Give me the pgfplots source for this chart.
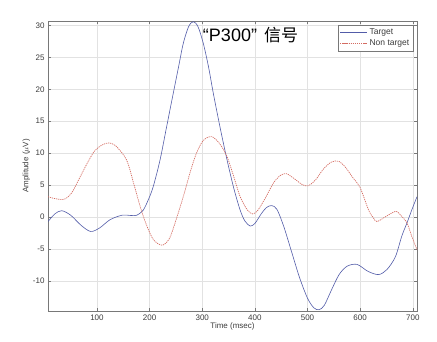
\documentclass[border=0pt]{standalone}
\usepackage{pgfplots}
\pgfplotsset{compat=1.18}
\usepackage{fontspec}
\setmainfont{Liberation Sans}
\newfontfamily\cjk{Noto Sans CJK SC}
\definecolor{tblue}{RGB}{82,92,168}
\definecolor{nred}{RGB}{212,108,98}
\definecolor{gridc}{RGB}{226,226,226}
\definecolor{axc}{RGB}{120,120,120}
\definecolor{txc}{RGB}{60,60,60}
\begin{document}
\begin{tikzpicture}
\path[use as bounding box] (-48pt,-31pt) rectangle (389pt,311pt);
\begin{axis}[
  at={(0,0)}, anchor=south west,
  scale only axis,
  width=369pt, height=290pt,
  xmin=7, xmax=708, ymin=-14.7, ymax=30.7,
  xtick={100,200,...,700},
  ytick={-10,-5,...,30},
  grid=major,
  major grid style={gridc, line width=0.5pt},
  axis line style={axc, line width=0.6pt},
  tick style={axc, line width=0.5pt},
  major tick length=3pt,
  tick align=inside,
  ticklabel style={font=\fontsize{8}{9}\selectfont, text=txc},
  /pgf/number format/assume math mode=true,
  xlabel={Time (msec)},
  ylabel={Amplitude ($\mu$V)},
  label style={font=\fontsize{8}{9}\selectfont, text=txc},
  xlabel style={yshift=4pt},
  ylabel style={yshift=-4pt},
  legend style={at={(0.9892,0.9866)}, anchor=north east, draw=axc, line width=0.5pt,
     font=\fontsize{8.5}{9}\selectfont, inner xsep=1.5pt, inner ysep=1.5pt, row sep=0pt,
     cells={anchor=west}},
  legend image code/.code={\draw[#1] (2pt,0pt) -- (25pt,0pt); \path (0pt,0pt) -- (27pt,0pt);},
]
\addplot[tblue, line width=0.6pt, smooth, tension=0.5] coordinates {
(7,-0.7) (20,0.5) (33,1.0) (50,0.3) (70,-1.3) (88,-2.25) (105,-1.7) (125,-0.4)
(148,0.3) (165,0.25) (176,0.3) (188,1.1) (198,2.8) (207,4.8) (220,9.0) (232,14.0)
(245,19.4) (255,23.5) (264,27.2) (274,29.8) (283,30.6) (292,29.8) (302,27.2)
(312,23.5) (321,19.4) (334,14.0) (347,9.0) (360,4.5) (372,1.1) (381,-0.6)
(391,-1.4) (400,-1.0) (412,0.5) (422,1.5) (432,1.8) (442,1.2) (455,-1.5)
(470,-5.5) (485,-9.5) (500,-12.7) (512,-14.2) (522,-14.5) (532,-13.8)
(545,-11.5) (560,-9.0) (575,-7.7) (594,-7.4) (615,-8.5) (635,-9.0) (651,-8.2)
(667,-6.2) (679,-3.0) (689,-0.9) (698,1.1) (708,3.2)
};
\addlegendentry[text=txc]{Target}
\addplot[nred, line width=0.7pt, dash pattern=on 1.2pt off 0.9pt, smooth, tension=0.5] coordinates {
(7,3.2) (20,2.9) (38,2.8) (52,3.8) (65,5.8) (80,8.2) (95,10.3) (110,11.3)
(122,11.6) (135,11.2) (156,9.0) (170,5.2) (182,1.7) (193,-1.0) (207,-3.5)
(224,-4.4) (238,-3.3) (250,-0.5) (264,3.2) (277,7.0) (289,10.0) (302,12.0)
(318,12.6) (333,11.5) (347,9.5) (360,6.3) (372,3.2) (385,1.2) (395,0.5)
(405,1.0) (420,3.0) (435,5.3) (448,6.5) (460,6.8) (475,6.0) (490,5.1)
(501,4.9) (515,5.8) (530,7.5) (545,8.6) (559,8.75) (572,7.8) (585,6.3)
(600,4.6) (616,1.1) (625,-0.1) (632,-0.7) (651,0.2) (668,0.9) (679,0.1)
(689,-0.9) (698,-3.0) (708,-5.1)
};
\addlegendentry[text=txc]{Non target}
\node[anchor=west, inner sep=0pt] at (rel axis cs:0.4195,0.952)
  {\fontsize{18}{18}\selectfont “P300”\hspace{7pt}{\cjk\fontsize{17}{18}\selectfont 信号}};
\end{axis}
\end{tikzpicture}
\end{document}
